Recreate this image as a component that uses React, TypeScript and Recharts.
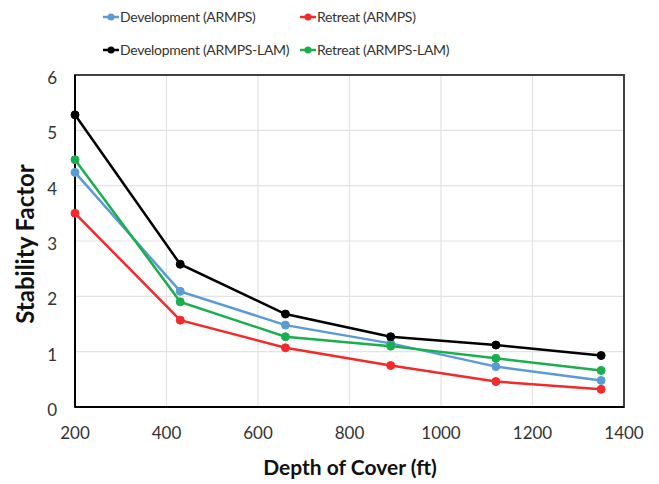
import React from 'react';
import {
  LineChart,
  Line,
  CartesianGrid,
  XAxis,
  YAxis,
  ReferenceArea,
} from 'recharts';

// depth of cover (ft)
const depths = [200, 430, 660, 890, 1120, 1350];

// stability factor for each case
const devArmps = [4.24, 2.09, 1.48, 1.15, 0.73, 0.48];
const retArmps = [3.5, 1.57, 1.07, 0.75, 0.46, 0.32];
const devLam = [5.28, 2.58, 1.68, 1.27, 1.12, 0.93];
const retLam = [4.47, 1.9, 1.27, 1.1, 0.88, 0.66];

const xTicks = [200, 400, 600, 800, 1000, 1200, 1400];
const yTicks = [0, 1, 2, 3, 4, 5, 6];

const series = [
  { key: 'devArmps', name: 'Development (ARMPS)', color: '#5B9BD5' },
  { key: 'retArmps', name: 'Retreat (ARMPS)', color: '#F42A2A' },
  { key: 'devLam', name: 'Development (ARMPS-LAM)', color: '#000000' },
  { key: 'retLam', name: 'Retreat (ARMPS-LAM)', color: '#1AAE4C' },
];

const data = depths.map((d, i) => ({
  depth: d,
  devArmps: devArmps[i],
  retArmps: retArmps[i],
  devLam: devLam[i],
  retLam: retLam[i],
}));

const FONT = 'Lato, "Open Sans", sans-serif';

const LegendItem: React.FC<{ name: string; color: string; x: number; y: number }> = ({ name, color, x, y }) => (
  <div style={{ position: 'absolute', left: x, top: y, display: 'flex', alignItems: 'center', fontFamily: FONT, fontSize: 14, letterSpacing: -0.3, color: '#333' }}>
    <svg width={16} height={10} style={{ marginRight: 1 }}>
      <line x1={0} y1={5} x2={16} y2={5} stroke={color} strokeWidth={2.5} />
      <circle cx={8} cy={5} r={3.5} fill={color} />
    </svg>
    <span>{name}</span>
  </div>
);

const App: React.FC = () => {
  const legendPos = [
    { x: 103, y: 8 },
    { x: 300, y: 8 },
    { x: 103, y: 41 },
    { x: 300, y: 41 },
  ];

  return (
    <div style={{ position: 'absolute', left: 0, top: 0, width: 659, height: 484, background: '#fff' }}>
      <LineChart width={659} height={484} data={data} margin={{ top: 75, right: 35, left: 0, bottom: 0 }}>
        <CartesianGrid stroke="#e3e3e3" strokeWidth={1.2} />
        <ReferenceArea x1={200} x2={1400} y1={0} y2={6} fill="none" stroke="#404040" strokeWidth={2} />
        <XAxis
          dataKey="depth"
          type="number"
          domain={[200, 1400]}
          ticks={xTicks}
          height={77}
          tickSize={0}
          tickMargin={20}
          tickLine={false}
          axisLine={{ stroke: '#000', strokeWidth: 2 }}
          tick={{ fill: '#333', fontSize: 17, fontFamily: FONT }}
        />
        <YAxis
          type="number"
          domain={[0, 6]}
          ticks={yTicks}
          width={75}
          tickSize={0}
          tickMargin={18}
          tickLine={false}
          axisLine={{ stroke: '#000', strokeWidth: 2 }}
          tick={{ fill: '#333', fontSize: 17, fontFamily: FONT, dy: 3 }}
        />
        {series.map(s => (
          <Line
            key={s.key}
            type="linear"
            dataKey={s.key}
            name={s.name}
            stroke={s.color}
            strokeWidth={2.5}
            dot={{ r: 4, fill: s.color, stroke: s.color, strokeWidth: 1 }}
            isAnimationActive={false}
          />
        ))}
      </LineChart>
      {series.map((s, i) => (
        <LegendItem key={s.key} name={s.name} color={s.color} x={legendPos[i].x} y={legendPos[i].y} />
      ))}
      <div style={{ position: 'absolute', left: 0, width: 700, top: 454, textAlign: 'center', fontFamily: FONT, fontWeight: 'bold', fontSize: 21, color: '#111' }}>
        Depth of Cover (ft)
      </div>
      <div
        style={{
          position: 'absolute',
          left: 24,
          top: 244,
          transform: 'translate(-50%, -50%) rotate(-90deg)',
          whiteSpace: 'nowrap',
          fontFamily: FONT,
          fontWeight: 'bold',
          fontSize: 24,
          color: '#111',
        }}
      >
        Stability Factor
      </div>
    </div>
  );
};

export default App;
